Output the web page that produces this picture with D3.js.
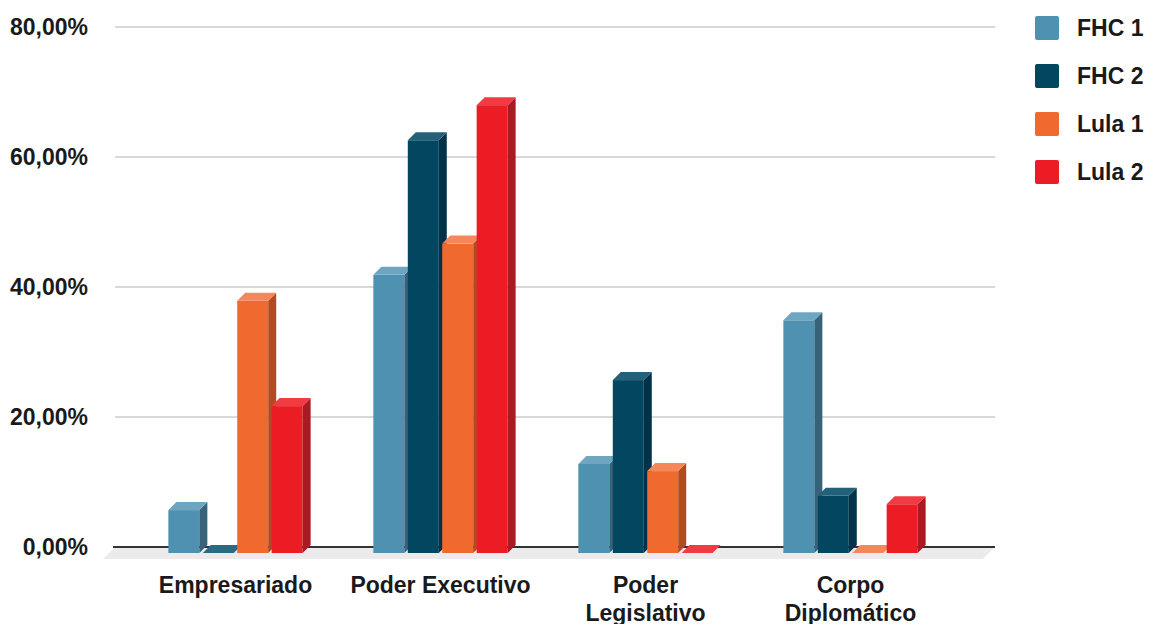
<!DOCTYPE html>
<html><head><meta charset="utf-8">
<script src="https://cdn.jsdelivr.net/npm/d3@7/dist/d3.min.js"></script>
<style>body{margin:0;background:#fff}svg{display:block;font-family:"Liberation Sans",Arial,sans-serif}</style>
</head><body><svg id="c" width="1149" height="624"></svg>
<script>
const categories = ["Empresariado", "Poder Executivo", "Poder Legislativo", "Corpo Diplomático"];
const categoryLines = [["Empresariado"], ["Poder Executivo"], ["Poder", "Legislativo"], ["Corpo", "Diplomático"]];
const seriesNames = ["FHC 1", "FHC 2", "Lula 1", "Lula 2"];
const fhc1 = [6.6, 42.8, 13.7, 35.8];
const fhc2 = [0, 63.5, 26.6, 8.8];
const lula1 = [38.8, 47.6, 12.6, 0];
const lula2 = [22.6, 68.9, 0, 7.5];
const yTicks = [0, 20, 40, 60, 80];
const seriesValues = [fhc1, fhc2, lula1, lula2];
const colors = {
  front: ["#4e91b0", "#034660", "#f06a30", "#ec1c24"],
  side:  ["#36637a", "#02314a", "#b34a22", "#a81b22"],
  top:   ["#6ea6c1", "#226179", "#f5875b", "#f03b42"],
  flat:  ["#6ea6c1", "#2a6a82", "#f5875b", "#f03b42"]
};

const svg = d3.select("#c");
const D = 8; // depth offset
const backBase = 547, frontBase = 553;
const y = d3.scaleLinear().domain([0, 80]).range([backBase, 27]);
const yFront = d3.scaleLinear().domain([0, 80]).range([frontBase, frontBase - 520]);
const x0 = d3.scaleBand().domain(categories).range([133, 953]).paddingInner(0.345).paddingOuter(0.1725);
const x1 = d3.scaleBand().domain(seriesNames).range([0, x0.bandwidth()]).paddingInner(0.1).paddingOuter(0);

// gridlines
svg.append("g").selectAll("line").data(yTicks.filter(d => d > 0)).join("line")
  .attr("x1", 115).attr("x2", 995).attr("y1", d => y(d)).attr("y2", d => y(d))
  .attr("stroke", "#cccccc").attr("stroke-width", 1.5);

// floor
svg.append("polygon")
  .attr("points", [[115, backBase], [995, backBase], [995 - 12, backBase + 12], [115 - 12, backBase + 12]].map(p => p.join(",")).join(" "))
  .attr("fill", "#ebebeb");
svg.append("line").attr("x1", 113).attr("x2", 995).attr("y1", backBase).attr("y2", backBase)
  .attr("stroke", "#333").attr("stroke-width", 2);

// y labels
const yAxis = d3.axisLeft(y).tickValues(yTicks).tickSize(0).tickPadding(0)
  .tickFormat(d => d.toFixed(2).replace(".", ",") + "%");
const ga = svg.append("g").attr("transform", "translate(88,0)").call(yAxis);
ga.select(".domain").remove();
ga.selectAll("text").attr("font-size", 23).attr("font-weight", "bold").attr("fill", "#1a1a1a")
  .attr("font-family", '"Liberation Sans",Arial,sans-serif');

// bars
const pts = a => a.map(p => p.join(",")).join(" ");
categories.forEach((cat, ci) => {
  const g = svg.append("g");
  seriesNames.forEach((s, si) => {
    const v = seriesValues[si][ci];
    const bx = x0(cat) + x1(s), w = x1.bandwidth();
    const top = yFront(v), base = frontBase;
    if (v > 0) {
      g.append("rect").attr("x", bx).attr("y", top).attr("width", w).attr("height", base - top)
        .attr("fill", colors.front[si]);
      g.append("polygon").attr("points", pts([[bx + w, top], [bx + w + D, top - D], [bx + w + D, base - D], [bx + w, base]]))
        .attr("fill", colors.side[si]);
    }
    g.append("polygon").attr("points", pts([[bx, top], [bx + D, top - D], [bx + w + D, top - D], [bx + w, top]]))
      .attr("fill", v > 0 ? colors.top[si] : colors.flat[si]);
  });
  const cx = x0(cat) + x0.bandwidth() / 2;
  const t = svg.append("text").attr("x", cx).attr("y", 593)
    .attr("text-anchor", "middle").attr("font-size", 23).attr("font-weight", "bold").attr("fill", "#1a1a1a");
  categoryLines[ci].forEach((ln, li) => t.append("tspan").attr("x", cx).attr("dy", li ? 28 : 0).text(ln));
});

// legend
const lg = svg.append("g");
seriesNames.forEach((s, i) => {
  const cy = 28 + i * 48;
  lg.append("rect").attr("x", 1035).attr("y", cy - 12).attr("width", 24).attr("height", 24).attr("rx", 2)
    .attr("fill", colors.front[i]);
  lg.append("text").attr("x", 1077).attr("y", cy + 8).attr("font-size", 23).attr("font-weight", "bold")
    .attr("fill", "#1a1a1a").text(s);
});
</script></body></html>
